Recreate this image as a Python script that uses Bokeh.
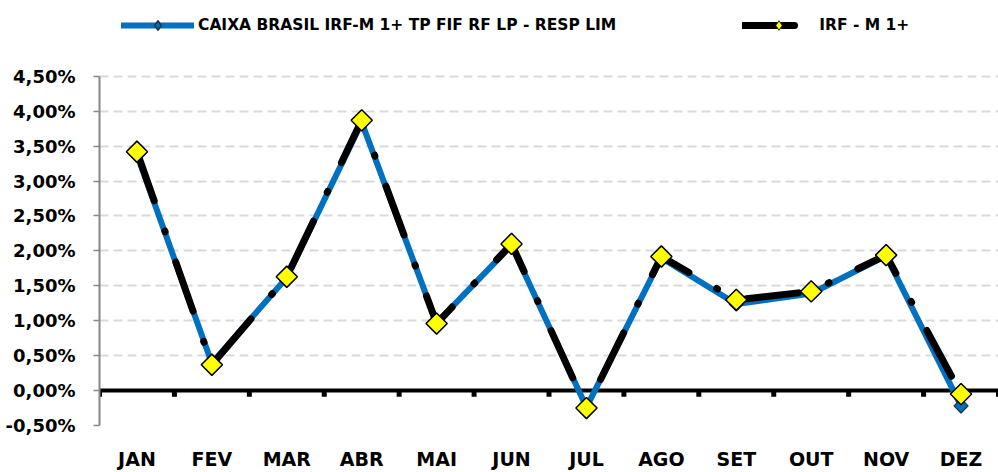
import math
from bokeh.plotting import figure
from bokeh.models import (ColumnDataSource, FactorRange, Range1d, FixedTicker, Span,
                          Legend, LegendItem)
from bokeh.embed import file_html
from bokeh.resources import INLINE

months = ["JAN", "FEV", "MAR", "ABR", "MAI", "JUN", "JUL", "AGO", "SET", "OUT", "NOV", "DEZ"]
fund = [3.38, 0.39, 1.62, 3.84, 0.97, 2.08, -0.24, 1.90, 1.24, 1.39, 1.93, -0.22]
bench = [3.42, 0.37, 1.63, 3.87, 0.96, 2.10, -0.25, 1.92, 1.30, 1.42, 1.94, -0.05]
y_ticks = [-0.5, 0.0, 0.5, 1.0, 1.5, 2.0, 2.5, 3.0, 3.5, 4.0, 4.5]
y_tick_labels = ["-0,50%", "0,00%", "0,50%", "1,00%", "1,50%", "2,00%", "2,50%",
                 "3,00%", "3,50%", "4,00%", "4,50%"]
fund_name = "CAIXA BRASIL IRF-M 1+ TP FIF RF LP - RESP LIM"
bench_name = "IRF - M 1+"

FONT = "DejaVu Sans"
BLUE = "#0070C0"

# plot area: value axis from -0.5 (y=426px) to 4.5 (y=76px); extra headroom above holds the legend
H, TOP_PX, BOT_PX = 472, 76, 426
px_per_unit = (BOT_PX - TOP_PX) / (y_ticks[-1] - y_ticks[0])
y_end = y_ticks[-1] + TOP_PX / px_per_unit

src = ColumnDataSource(dict(m=months, fund=fund, bench=bench))

p = figure(width=998, height=H, output_backend="svg", toolbar_location=None,
           x_range=FactorRange(factors=months, range_padding=0),
           y_range=Range1d(y_ticks[0], y_end),
           min_border_left=99, min_border_right=0, min_border_top=0, min_border_bottom=H - BOT_PX)
p.outline_line_color = None
p.background_fill_color = "white"
p.border_fill_color = "white"

# y axis
yax = p.yaxis[0]
yax.ticker = FixedTicker(ticks=y_ticks)
yax.bounds = (y_ticks[0], y_ticks[-1])
yax.major_label_overrides = dict(zip(y_ticks, y_tick_labels))
yax.axis_line_color = "#868686"
yax.axis_line_width = 2
yax.major_tick_line_color = "#868686"
yax.major_tick_line_width = 1.5
yax.major_tick_out = 6
yax.major_tick_in = 0
yax.minor_tick_line_color = None
yax.major_label_standoff = 18
yax.major_label_text_font = FONT
yax.major_label_text_font_style = "bold"
yax.major_label_text_font_size = "18px"
yax.major_label_text_color = "black"

# x axis (labels only)
xax = p.xaxis[0]
xax.axis_line_color = None
xax.major_tick_line_color = None
xax.minor_tick_line_color = None
xax.major_tick_out = 0
xax.major_label_standoff = 22
xax.major_label_text_font = FONT
xax.major_label_text_font_style = "bold"
xax.major_label_text_font_size = "19px"
xax.major_label_text_color = "black"

p.xgrid.grid_line_color = None
p.ygrid.ticker = FixedTicker(ticks=y_ticks)
p.ygrid.grid_line_color = "#D9D9D9"
p.ygrid.grid_line_width = 2
p.ygrid.grid_line_dash = "9 5"

# zero axis line with category boundary ticks
p.add_layout(Span(location=0, dimension="width", line_color="black", line_width=4, level="underlay"))
bounds = list(range(len(months) + 1))
p.segment(x0=bounds, x1=bounds, y0=[0] * len(bounds), y1=[-0.09] * len(bounds),
          line_color="black", line_width=5)

# series
r_fund_line = p.line("m", "fund", source=src, line_color=BLUE, line_width=6, line_join="round",
                     line_cap="round")
p.scatter("m", "fund", source=src, marker="square", angle=math.pi / 4, size=10,
          fill_color=BLUE, line_color="#1F2D3D", line_width=1.2)
r_bench_line = p.line("m", "bench", source=src, line_color="black", line_width=7, line_join="round",
                      line_cap="round", line_dash="52 32 1 32")
p.scatter("m", "bench", source=src, marker="square", angle=math.pi / 4, size=15,
          fill_color="#FFFF00", line_color="black", line_width=1.5)

# legend-only (hidden) marker renderers: diamond keys as in the legend
leg_fund_pt = p.scatter("m", "fund", source=src, marker="diamond", fill_color=BLUE,
                        line_color="#1F2D3D", line_width=1.5, visible=False)
leg_bench_pt = p.scatter("m", "bench", source=src, marker="diamond", fill_color="#FFFF00",
                         line_color="#333300", line_width=1, visible=False)

GH = 24
legend = Legend(items=[
    LegendItem(label=fund_name, renderers=[r_fund_line, leg_fund_pt]),
    LegendItem(label=bench_name, renderers=[r_bench_line, leg_bench_pt]),
], location=(22, BOT_PX - 26 - GH // 2), orientation="horizontal")
legend.border_line_color = None
legend.background_fill_alpha = 0
legend.padding = 0
legend.margin = 0
legend.spacing = 126
legend.glyph_width = 73
legend.glyph_height = GH
legend.label_height = GH
legend.label_standoff = 4
legend.label_text_font = FONT
legend.label_text_font_style = "bold"
legend.label_text_font_size = "15.5px"
legend.label_text_color = "black"
p.add_layout(legend, "center")

open("out.html", "w").write(file_html(p, INLINE))
